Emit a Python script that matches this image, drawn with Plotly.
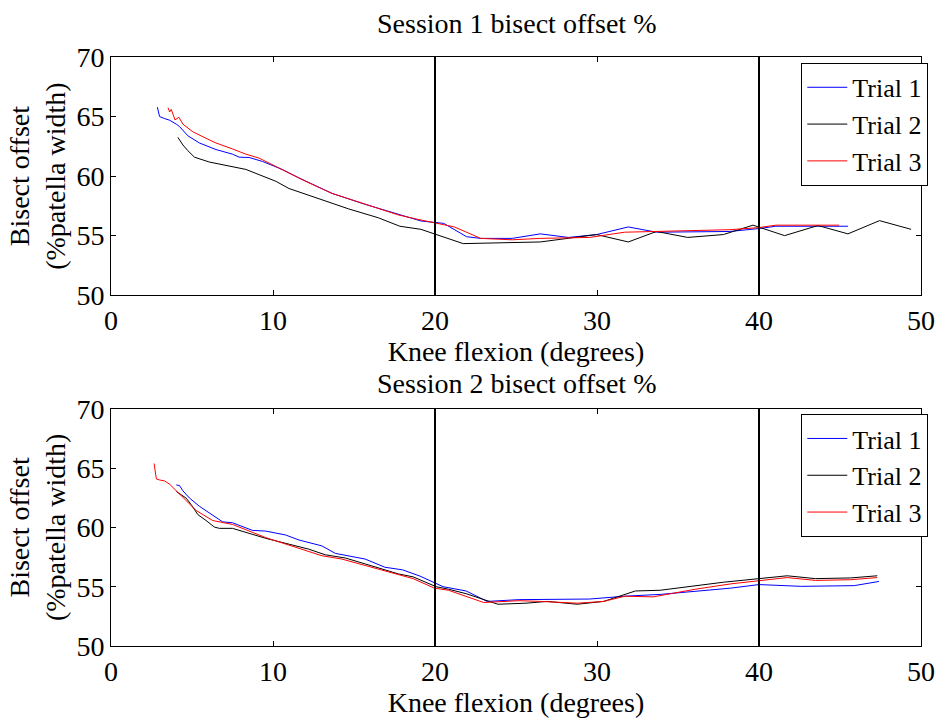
import plotly.graph_objects as go
from plotly.subplots import make_subplots

# ---- Session 1: knee flexion (deg) vs bisect offset (% patella width)
s1_t1_x = [2.86, 2.9, 3.0, 3.31, 3.62, 4.03, 4.23, 4.74, 5.46, 6.48, 7.5, 7.91, 8.53, 9.35,
           10.57, 11.6, 13.64, 15.69, 17.73, 19.13, 20.54, 21.95, 22.82, 24.77, 26.5, 28.24,
           29.98, 31.93, 33.67, 38.2, 39.96, 41.04, 43.64, 45.49]
s1_t1_y = [65.79, 65.46, 65.0, 64.83, 64.69, 64.36, 64.16, 63.39, 62.78, 62.23, 61.84, 61.59,
           61.56, 61.23, 60.56, 59.85, 58.55, 57.63, 56.8, 56.23, 56.03, 54.91, 54.77, 54.77,
           55.15, 54.85, 55.09, 55.73, 55.29, 55.35, 55.59, 55.79, 55.79, 55.79]

s1_t2_x = [4.13, 4.44, 4.74, 5.15, 6.07, 7.5, 8.33, 9.14, 10.17, 10.98, 12.62, 14.66, 16.5,
           17.83, 19.13, 21.74, 26.5, 29.98, 31.93, 33.67, 35.6, 37.8, 39.63, 41.58, 43.64,
           45.49, 47.44, 49.39]
s1_t2_y = [63.25, 62.61, 62.14, 61.59, 61.18, 60.76, 60.56, 60.12, 59.57, 58.96, 58.19, 57.25,
           56.5, 55.79, 55.53, 54.33, 54.47, 55.09, 54.47, 55.35, 54.85, 55.09, 55.88, 55.0,
           55.85, 55.15, 56.26, 55.53]

s1_t3_x = [3.52, 3.62, 3.72, 3.82, 3.95, 4.07, 4.19, 4.44, 5.05, 5.87, 6.48, 7.5, 8.33, 9.14,
           9.96, 10.78, 12.0, 13.64, 15.69, 17.73, 18.9, 20.0, 21.2, 22.82, 24.77, 26.5, 29.54,
           31.71, 33.88, 38.2, 39.96, 41.04, 44.95]
s1_t3_y = [65.74, 65.38, 65.6, 65.19, 64.72, 64.83, 64.94, 64.36, 63.72, 63.17, 62.78, 62.28,
           61.84, 61.51, 60.95, 60.35, 59.57, 58.55, 57.63, 56.74, 56.38, 56.08, 55.73, 54.77,
           54.65, 54.77, 54.85, 55.29, 55.35, 55.5, 55.67, 55.88, 55.88]

# ---- Session 2
s2_t1_x = [4.03, 4.23, 4.44, 4.85, 5.46, 6.28, 6.89, 7.5, 8.73, 9.55, 10.78, 11.6, 13.02,
           13.85, 15.69, 16.91, 18.0, 19.08, 20.5, 21.92, 23.22, 25.19, 29.54, 31.72, 33.9,
           38.26, 40.0, 42.61, 45.88, 47.4]
s2_t1_y = [63.58, 63.53, 63.08, 62.47, 61.78, 61.03, 60.47, 60.39, 59.75, 59.69, 59.36, 58.94,
           58.44, 57.81, 57.33, 56.64, 56.42, 55.89, 55.0, 54.64, 53.76, 53.91, 53.96, 54.2,
           54.35, 54.88, 55.18, 55.03, 55.09, 55.44]

s2_t2_x = [4.03, 4.64, 4.95, 5.36, 5.87, 6.38, 6.69, 7.5, 9.55, 11.6, 12.2, 13.23, 14.46,
           15.69, 17.73, 18.65, 20.07, 20.83, 21.92, 23.88, 25.62, 26.93, 28.78, 30.41, 32.37,
           33.9, 37.82, 40.0, 41.74, 43.49, 45.66, 47.3]
s2_t2_y = [63.03, 62.47, 61.92, 61.08, 60.58, 60.03, 59.92, 59.92, 59.08, 58.36, 58.17, 57.69,
           57.42, 56.92, 56.08, 55.83, 55.0, 54.79, 54.41, 53.52, 53.61, 53.76, 53.52, 53.76,
           54.64, 54.7, 55.38, 55.68, 55.92, 55.68, 55.74, 55.92]

s2_t3_x = [2.66, 2.72, 2.8, 3.0, 3.31, 3.62, 4.03, 4.64, 5.26, 6.28, 7.1, 7.5, 9.55, 11.6,
           13.02, 14.25, 15.69, 17.73, 18.65, 19.96, 20.83, 23.0, 25.19, 26.5, 28.78, 30.41,
           31.72, 33.46, 36.08, 38.26, 40.0, 41.74, 43.49, 45.66, 47.3]
s2_t3_y = [65.39, 64.69, 64.08, 64.0, 63.92, 63.64, 63.08, 62.19, 61.42, 60.58, 60.39, 60.25,
           59.14, 58.25, 57.61, 57.33, 56.78, 56.03, 55.68, 54.88, 54.7, 53.67, 53.82, 53.76,
           53.61, 53.76, 54.2, 54.14, 54.79, 55.24, 55.53, 55.77, 55.53, 55.59, 55.77]

trial_names = ["Trial 1", "Trial 2", "Trial 3"]
trial_colors = ["#0000ff", "#000000", "#ff0000"]
session_titles = ["Session 1 bisect offset %", "Session 2 bisect offset %"]
marker_angles = [20, 40]
x_ticks = [0, 10, 20, 30, 40, 50]
y_ticks = [50, 55, 60, 65, 70]

sessions = [
    [(s1_t1_x, s1_t1_y), (s1_t2_x, s1_t2_y), (s1_t3_x, s1_t3_y)],
    [(s2_t1_x, s2_t1_y), (s2_t2_x, s2_t2_y), (s2_t3_x, s2_t3_y)],
]

FONT = "Liberation Serif, Times New Roman, serif"
FS = 28

fig = make_subplots(rows=2, cols=1)

for row, trials in enumerate(sessions, start=1):
    legend_id = "legend" if row == 1 else "legend2"
    for (xs, ys), name, color in zip(trials, trial_names, trial_colors):
        fig.add_trace(
            go.Scatter(x=xs, y=ys, mode="lines", name=name,
                       line=dict(color=color, width=1), legend=legend_id),
            row=row, col=1,
        )
    for ang in marker_angles:
        fig.add_vline(x=ang, line=dict(color="black", width=2), row=row, col=1)

axis_common = dict(
    showline=True, linecolor="black", linewidth=1, mirror="ticks",
    ticks="inside", ticklen=5, tickcolor="black", showgrid=False, zeroline=False,
    tickfont=dict(family=FONT, size=FS, color="black"),
)

for i, dom in [(1, [0.5956, 1.0]), (2, [0.0, 0.4027])]:
    fig.update_xaxes(range=[0, 50], tickvals=x_ticks, **axis_common,
                     title=dict(text="Knee flexion (degrees)", standoff=0,
                                font=dict(family=FONT, size=FS, color="black")),
                     row=i, col=1)
    fig.update_yaxes(range=[50, 70], tickvals=y_ticks, domain=dom, **axis_common,
                     title=dict(text="Bisect offset<br>(%patella width)", standoff=2,
                                font=dict(family=FONT, size=FS, color="black")),
                     row=i, col=1)

legend_style = dict(
    xanchor="right", yanchor="top", x=1.009,
    bgcolor="white", bordercolor="black", borderwidth=1,
    font=dict(family=FONT, size=26, color="black"),
    tracegroupgap=0, itemwidth=40,
)

fig.update_layout(
    width=947, height=718,
    margin=dict(l=111, r=21, t=57, b=65),
    paper_bgcolor="white", plot_bgcolor="white",
    showlegend=True,
    legend=dict(y=0.99, **legend_style),
    legend2=dict(y=0.3938, **legend_style),
    annotations=[
        dict(text=session_titles[0], x=0.5, y=1.0, xref="paper", yref="paper",
             xanchor="center", yanchor="bottom", yshift=16, showarrow=False,
             font=dict(family=FONT, size=FS, color="black")),
        dict(text=session_titles[1], x=0.5, y=0.4027, xref="paper", yref="paper",
             xanchor="center", yanchor="bottom", yshift=8, showarrow=False,
             font=dict(family=FONT, size=FS, color="black")),
    ],
)

fig.write_html("out.html")
